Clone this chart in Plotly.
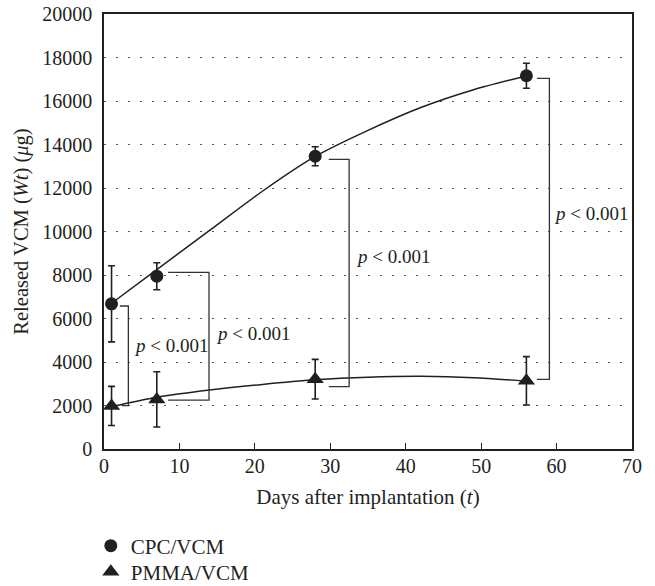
import plotly.graph_objects as go

# ---- data ----
days = [1, 7, 28, 56]
cpc_mean = [6675, 7945, 13460, 17160]
cpc_err = [1750, 620, 435, 575]
pmma_mean = [1980, 2280, 3210, 3135]
pmma_err = [900, 1270, 910, 1110]

# fitted trend curves
fit_days = [1, 7, 14, 21, 28, 35, 42, 49, 56]
cpc_fit_vals = [6700, 8250, 10050, 11850, 13450, 14650, 15700, 16520, 17150]
pmma_fit_vals = [1950, 2380, 2710, 2970, 3180, 3300, 3340, 3280, 3120]

# significance brackets
br_top_start = [2.1, 8.5, 29.8, 57.4]
br_bot_start = [2.35, 8.5, 29.8, 57.4]
br_x = [3.23, 13.92, 32.5, 59.05]
br_top = [6575, 8120, 13320, 17040]
br_bottom = [1990, 2250, 2865, 3200]
label_x = [3.7, 14.6, 33.2, 59.4]
label_y = [4780, 5320, 8840, 10830]
label_text = "<i>p</i> < 0.001"

x_ticks = [0, 10, 20, 30, 40, 50, 60, 70]
y_ticks = [0, 2000, 4000, 6000, 8000, 10000, 12000, 14000, 16000, 18000, 20000]
y_tick_text = [str(v) for v in y_ticks]

FONT = "Liberation Serif"
INK = "#231f20"

fig = go.Figure()

fig.add_trace(go.Scatter(x=fit_days, y=cpc_fit_vals, mode="lines",
                         line=dict(color=INK, width=1.5, shape="spline", smoothing=0.8),
                         showlegend=False, hoverinfo="skip"))
fig.add_trace(go.Scatter(x=fit_days, y=pmma_fit_vals, mode="lines",
                         line=dict(color=INK, width=1.5, shape="spline", smoothing=0.8),
                         showlegend=False, hoverinfo="skip"))

for i in range(len(br_x)):
    fig.add_trace(go.Scatter(
        x=[br_top_start[i], br_x[i], br_x[i], br_bot_start[i]],
        y=[br_top[i], br_top[i], br_bottom[i], br_bottom[i]],
        mode="lines", line=dict(color="#333333", width=1.3),
        showlegend=False, hoverinfo="skip"))
    fig.add_annotation(x=label_x[i], y=label_y[i], text=label_text,
                       showarrow=False, xanchor="left", yanchor="middle",
                       font=dict(family=FONT, size=19, color=INK))

fig.add_trace(go.Scatter(x=days, y=cpc_mean, mode="markers", name="CPC/VCM",
                         marker=dict(symbol="circle", size=13, color=INK),
                         error_y=dict(type="data", array=cpc_err, color=INK,
                                      thickness=1.6, width=3.5),
                         legend="legend"))
fig.add_trace(go.Scatter(x=days, y=pmma_mean, mode="markers", name="PMMA/VCM",
                         marker=dict(symbol="triangle-up", size=15, color=INK),
                         error_y=dict(type="data", array=pmma_err, color=INK,
                                      thickness=1.6, width=3.5),
                         legend="legend2"))

legend_style = dict(xanchor="left", yanchor="top", bgcolor="rgba(0,0,0,0)",
                    font=dict(family=FONT, size=21, color=INK), itemsizing="trace")

fig.update_layout(
    width=655, height=586,
    margin=dict(l=104, r=23, t=14, b=137, autoexpand=False),
    plot_bgcolor="white", paper_bgcolor="white",
    font=dict(family=FONT, size=20, color=INK),
    showlegend=True,
    legend=dict(x=-0.025, y=-0.176, **legend_style),
    legend2=dict(x=-0.025, y=-0.2358, **legend_style),
)

fig.update_xaxes(
    range=[0, 70], tickvals=x_ticks, ticks="inside", ticklen=6, tickwidth=1.3,
    tickcolor=INK, showline=True, linecolor=INK, linewidth=1.5, mirror=True,
    showgrid=False, zeroline=False, ticklabelstandoff=-2, ticklabeloverflow="allow",
    title=dict(text="Days after implantation (<i>t</i>)", standoff=14,
               font=dict(family=FONT, size=21, color=INK)),
    tickfont=dict(family=FONT, size=20, color=INK))

fig.update_yaxes(
    range=[0, 20000], tickvals=y_ticks, ticktext=y_tick_text, ticks="",
    showline=True, linecolor=INK,
    linewidth=1.5, mirror=True, showgrid=True, gridcolor="#555555", gridwidth=1.2,
    griddash="1.5px,10.5px", zeroline=False, ticklabelstandoff=6,
    ticklabeloverflow="allow",
    title=dict(text="Released VCM (<i>Wt</i>) (<i>μ</i>g)", standoff=8,
               font=dict(family=FONT, size=20.5, color=INK)),
    tickfont=dict(family=FONT, size=20, color=INK))

fig.write_html("out.html", config={"displayModeBar": False},
               post_script="document.body.style.margin='0';")
